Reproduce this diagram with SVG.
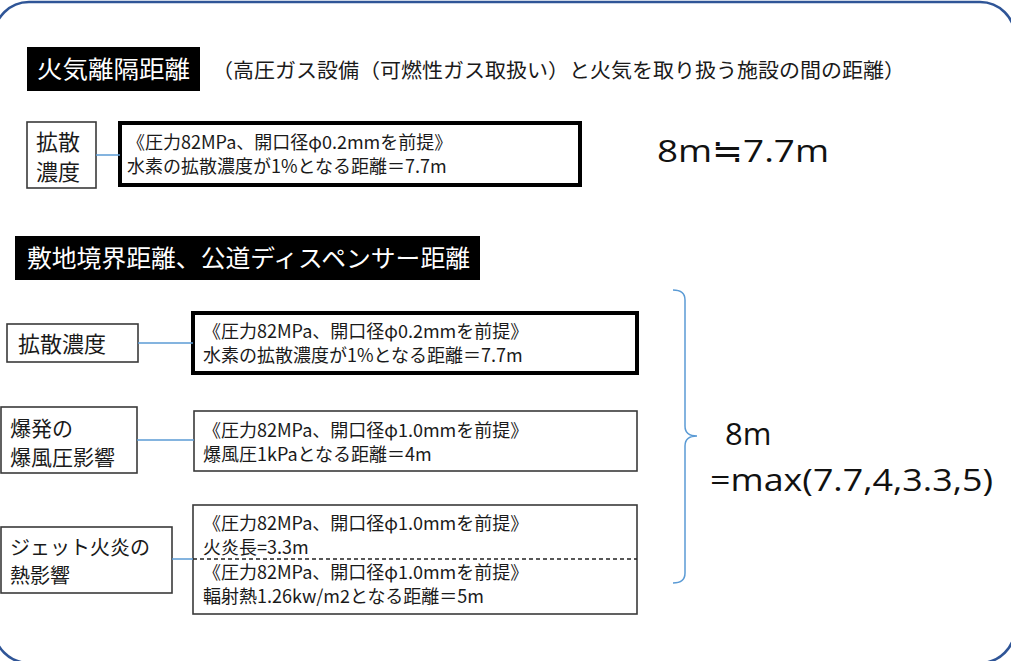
<svg xmlns="http://www.w3.org/2000/svg" width="1011" height="661" viewBox="0 0 1011 661">
<style>
.jp{font-family:"Noto Sans CJK JP","Noto Sans",sans-serif;fill:#1a1a1a}
.w{fill:#fff}
.hd{fill:#000}
.box{fill:#fff;stroke:#3a3a3a;stroke-width:1.6}
.thick{fill:#fff;stroke:#000;stroke-width:4}
.con{stroke:#5B9BD5;stroke-width:1.5;fill:none}
.big{font-family:"Open Sans","Liberation Sans",sans-serif;fill:#111;font-size:31px}
.s18{font-size:18px}
.s22{font-size:22px}
</style>
<rect width="1011" height="661" fill="#fff"/>
<rect x="-6" y="2" width="1021" height="661" rx="35" fill="#fff" stroke="#2F5597" stroke-width="2.5"/>

<g id="title1">
<rect class="hd" x="27" y="47" width="173" height="44"/>
<text class="jp w" x="37" y="78" font-size="24" textLength="153" lengthAdjust="spacingAndGlyphs">火気離隔距離</text>
</g>
<g id="subtitle">
<text class="jp" x="212" y="78" font-size="20" textLength="693" lengthAdjust="spacingAndGlyphs">（高圧ガス設備（可燃性ガス取扱い）と火気を取り扱う施設の間の距離）</text>
</g>

<g id="top-label">
<rect class="box" x="27" y="122" width="69" height="66"/>
<text class="jp s22" x="36" y="150">拡散</text>
<text class="jp s22" x="36" y="180">濃度</text>
</g>
<g id="top-detail">
<rect class="thick" x="120" y="123" width="460" height="62"/>
<text class="jp s18" x="127" y="149">《圧力82MPa、開口径φ0.2mmを前提》</text>
<text class="jp s18" x="127" y="173">水素の拡散濃度が1%となる距離＝7.7m</text>
</g>
<g id="top-result">
<text class="big" x="657" y="162" textLength="172" lengthAdjust="spacingAndGlyphs">8m≒7.7m</text>
</g>

<g id="title2">
<rect class="hd" x="15" y="236" width="465" height="44"/>
<text class="jp w" x="27" y="267" font-size="24" textLength="443" lengthAdjust="spacingAndGlyphs">敷地境界距離、公道ディスペンサー距離</text>
</g>

<g id="label-diffusion">
<rect class="box" x="7" y="324" width="131" height="38"/>
<text class="jp s22" x="18" y="352">拡散濃度</text>
</g>
<g id="detail-diffusion">
<rect class="thick" x="193" y="313" width="444" height="60"/>
<text class="jp s18" x="203" y="338">《圧力82MPa、開口径φ0.2mmを前提》</text>
<text class="jp s18" x="203" y="362">水素の拡散濃度が1%となる距離＝7.7m</text>
</g>

<g id="label-blast">
<rect class="box" x="1" y="407" width="136" height="66"/>
<text class="jp" x="10" y="436" font-size="21">爆発の</text>
<text class="jp" x="10" y="465" font-size="21">爆風圧影響</text>
</g>
<g id="detail-blast">
<rect class="box" x="194" y="411" width="443" height="60"/>
<text class="jp s18" x="203" y="437">《圧力82MPa、開口径φ1.0mmを前提》</text>
<text class="jp s18" x="203" y="461">爆風圧1kPaとなる距離＝4m</text>
</g>

<g id="label-jet">
<rect class="box" x="1" y="527" width="171" height="66"/>
<text class="jp" x="10" y="555" font-size="20">ジェット火炎の</text>
<text class="jp" x="10" y="583" font-size="20">熱影響</text>
</g>
<g id="detail-jet">
<rect class="box" x="193" y="505" width="444" height="109"/>
<line x1="193" y1="559" x2="637" y2="559" stroke="#222" stroke-width="1.3" stroke-dasharray="4 3"/>
<text class="jp s18" x="203" y="530">《圧力82MPa、開口径φ1.0mmを前提》</text>
<text class="jp s18" x="203" y="554">火炎長=3.3m</text>
<text class="jp s18" x="203" y="579">《圧力82MPa、開口径φ1.0mmを前提》</text>
<text class="jp s18" x="203" y="603">輻射熱1.26kw/m2となる距離＝5m</text>
</g>

<g id="result">
<text class="big" x="725" y="445">8m</text>
<text class="big" x="710" y="491" textLength="283" lengthAdjust="spacingAndGlyphs">=max(7.7,4,3.3,5)</text>
</g>

<g id="connectors">
<line class="con" x1="96" y1="155" x2="120" y2="155"/>
<line class="con" x1="138" y1="343" x2="193" y2="343"/>
<line class="con" x1="137" y1="440" x2="194" y2="440"/>
<line class="con" x1="172" y1="559" x2="193" y2="559"/>
<path class="con" d="M673,290 Q685,290 685,300 L685,426 Q685,436 697,436 Q685,436 685,446 L685,573 Q685,583 673,583"/>
</g>
</svg>
